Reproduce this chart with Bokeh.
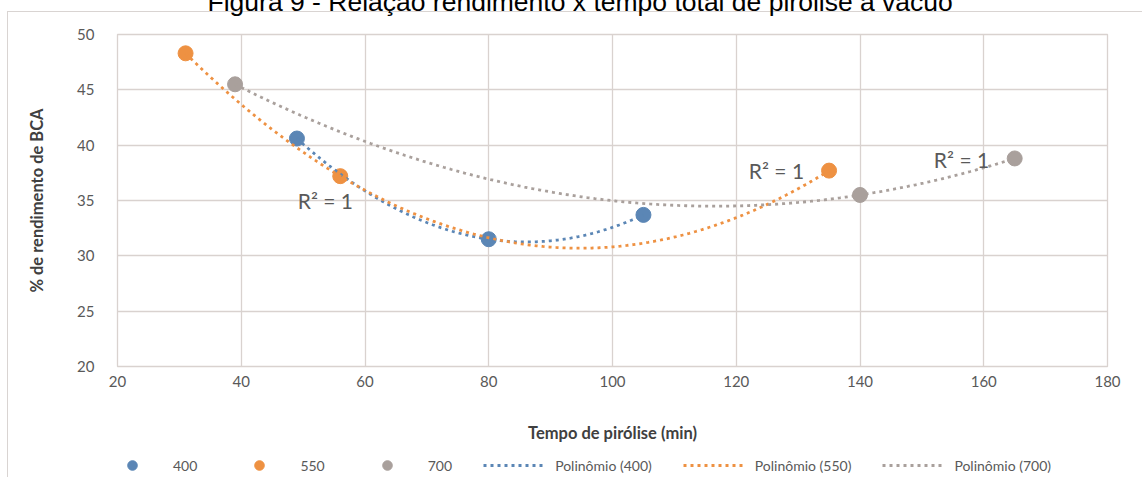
import numpy as np
from bokeh.plotting import figure
from bokeh.layouts import column
from bokeh.models import Label, Legend, LegendItem, Title
from bokeh.embed import file_html
from bokeh.resources import INLINE

# ---------------- data ----------------
title_text = "Figura 9 - Relação rendimento x tempo total de pirólise a vácuo"
x_title = "Tempo de pirólise (min)"
y_title = "% de rendimento de BCA"
series_names = ["400", "550", "700"]
trend_names = ["Polinômio (400)", "Polinômio (550)", "Polinômio (700)"]

x_400 = [49, 80, 105]
y_400 = [40.6, 31.5, 33.7]
x_550 = [31, 56, 135]
y_550 = [48.3, 37.2, 37.7]
x_700 = [39, 140, 165]
y_700 = [45.5, 35.5, 38.8]

x_ticks = [20, 40, 60, 80, 100, 120, 140, 160, 180]
y_ticks = [20, 25, 30, 35, 40, 45, 50]
r2_text = "R² = 1"

# ---------------- style ----------------
colors = ["#5B86B5", "#EE9142", "#A9A09C"]
grid_color = "#D9D2CF"
text_gray = "#595959"
font = "Lato"
SHIFT = 40      # canvas extends above the window; the caption is cut like in the source
LEG_H = 32      # height of the legend strip under the chart

p = figure(width=1142, height=477 - LEG_H + SHIFT, x_range=(20, 180), y_range=(20, 50),
           output_backend="svg", toolbar_location=None,
           min_border_left=117, min_border_right=35,
           min_border_top=34 + SHIFT, min_border_bottom=477 - LEG_H - 366,
           border_fill_color=None, background_fill_color="white",
           outline_line_color=grid_color, outline_line_width=1.3)

# caption, partly above the visible area
cap = Title(text=title_text, align="left", offset=90, vertical_align="bottom", standoff=35,
            text_font="Liberation Sans", text_font_size="26.5px", text_font_style="normal",
            text_color="#000000")
p.add_layout(cap, "above")

for ax in (p.xaxis, p.yaxis):
    ax.axis_line_color = None
    ax.major_tick_line_color = None
    ax.minor_tick_line_color = None
    ax.major_label_text_font = font
    ax.major_label_text_font_size = "15px"
    ax.major_label_text_color = text_gray
    ax.axis_label_text_font = font
    ax.axis_label_text_font_style = "bold"
    ax.axis_label_text_font_size = "16.5px"
    ax.axis_label_text_color = "#404040"

p.xaxis.ticker = x_ticks
p.yaxis.ticker = y_ticks
p.xaxis.major_label_standoff = 3
p.yaxis.major_label_standoff = 17

p.yaxis.axis_label = y_title
p.yaxis.axis_label_standoff = 27
p.xaxis.axis_label = x_title
p.xaxis.axis_label_standoff = 33

p.xgrid.ticker = x_ticks
p.ygrid.ticker = y_ticks
p.grid.grid_line_color = grid_color
p.grid.grid_line_width = 1.3

xs_all = [x_400, x_550, x_700]
ys_all = [y_400, y_550, y_700]

# markers
for xs, ys, c in zip(xs_all, ys_all, colors):
    p.scatter(xs, ys, size=15, marker="circle", fill_color=c, line_color=c)

# polynomial trendlines (order 2) derived from the data
trend_xy = []
for xs, ys, c in zip(xs_all, ys_all, colors):
    coef = np.polyfit(xs, ys, 2)
    xx = np.linspace(min(xs), max(xs), 300)
    yy = np.polyval(coef, xx)
    trend_xy.append((xx, yy))
    p.line(xx, yy, line_color=c, line_width=2.8, line_dash="3 4")

# R² labels
for (lx, ly) in [(53.6, 35.0), (126.5, 37.7), (156.4, 38.7)]:
    p.add_layout(Label(x=lx, y=ly, text=r2_text, text_font=font, text_font_size="21px",
                       text_color=text_gray, text_align="center", text_baseline="middle"))

# ---------------- legend strip (own small canvas) ----------------
pl = figure(width=1142, height=LEG_H, x_range=(0, 1), y_range=(0, 1),
            output_backend="svg", toolbar_location=None,
            x_axis_type=None, y_axis_type=None, min_border=0,
            border_fill_color=None, background_fill_color=None, outline_line_color=None)
pl.grid.visible = False
leg_sc = [pl.scatter(xs, ys, size=15, marker="circle", fill_color=c, line_color=c)
          for xs, ys, c in zip(xs_all, ys_all, colors)]      # outside the strip's ranges
leg_ln = [pl.line(xx, yy, line_color=c, line_width=2.8, line_dash="3 4")
          for (xx, yy), c in zip(trend_xy, colors)]

items = [LegendItem(label=n, renderers=[r]) for n, r in zip(series_names, leg_sc)]
items += [LegendItem(label=n, renderers=[r]) for n, r in zip(trend_names, leg_ln)]
legend = Legend(items=items, orientation="horizontal", location=(-16, 0),
                glyph_width=62, glyph_height=24, label_standoff=10, spacing=31,
                padding=0, margin=0, border_line_color=None, background_fill_alpha=0,
                label_text_font=font, label_text_font_size="14px",
                label_text_color=text_gray)
pl.add_layout(legend)

layout = column(p, pl, spacing=0,
                styles={"margin-top": f"-{SHIFT}px",
                        "background": f"linear-gradient(#D9D4D2,#D9D4D2) 7px {11 + SHIFT}px / 1px 700px no-repeat, "
                                      f"linear-gradient(#D9D4D2,#D9D4D2) 7px {11 + SHIFT}px / 1300px 1px no-repeat"})

open("out.html", "w").write(file_html(layout, INLINE))
